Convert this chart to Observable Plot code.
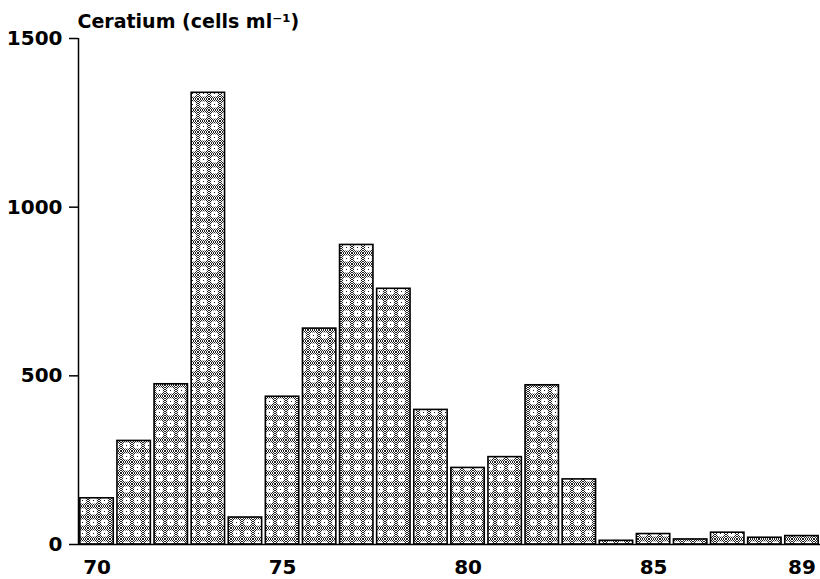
<!DOCTYPE html>
<html>
<head>
<meta charset="utf-8">
<script src="https://cdn.jsdelivr.net/npm/d3@7"></script>
<script src="https://cdn.jsdelivr.net/npm/@observablehq/plot@0.6"></script>
<style>
  html, body { margin: 0; padding: 0; background: #fff; }
  #chart svg { display: block; }
</style>
</head>
<body>
<div id="chart"></div>
<script>
const years = [1970,1971,1972,1973,1974,1975,1976,1977,1978,1979,1980,1981,1982,1983,1984,1985,1986,1987,1988,1989];
const cells = [137,307,475,1339,80,438,640,888,758,399,227,259,472,193,11,31,15,35,20,25];
const yTicks = [0,500,1000,1500];
const xTicks = [1970,1975,1980,1985,1989];
const title = "Ceratium (cells ml\u207B\u00B9)";

const data = years.map((year, i) => ({year, value: cells[i]}));
const half = 0.45;

const font = "'DejaVu Sans', sans-serif";

const plot = Plot.plot({
  width: 820,
  height: 579,
  marginLeft: 78,
  marginRight: 0,
  marginTop: 38,
  marginBottom: 35,
  style: {fontFamily: font, fontSize: "20px", fontWeight: "bold", color: "#000", background: "#fff"},
  x: {domain: [1969.5, 1989.5], axis: null, label: null},
  y: {domain: [0, 1500], axis: null, label: null},
  marks: [
    Plot.rectY(data, {
      x1: d => d.year - half,
      x2: d => d.year + half,
      y: "value",
      fill: "url(#ceratiumPattern)",
      stroke: "#000",
      strokeWidth: 1.6
    }),
    Plot.ruleY([0], {stroke: "#000", strokeWidth: 1.5}),
    Plot.ruleX([1969.5], {y1: 0, y2: 1500, stroke: "#000", strokeWidth: 1.5}),
    Plot.axisY({ticks: yTicks, tickSize: 9, tickPadding: 7, tickFormat: d => String(d), label: null, fontSize: 20, fontWeight: "bold", strokeWidth: 1.5}),
    Plot.axisX({ticks: xTicks, tickSize: 0, tickPadding: 15, tickFormat: d => String(d % 100), label: null, fontSize: 20, fontWeight: "bold"}),
    Plot.text([title], {frameAnchor: "top-left", textAnchor: "start", lineAnchor: "bottom", dy: -11, dx: -1, fontSize: 19, fontWeight: "bold"})
  ]
});

// pattern definition for bar fills
const svg = d3.select(plot);
const defs = svg.insert("defs", ":first-child");
const checker = defs.append("pattern")
  .attr("id", "halftone")
  .attr("patternUnits", "userSpaceOnUse")
  .attr("width", 2).attr("height", 2);
checker.append("rect").attr("width", 2).attr("height", 2).attr("fill", "#fff");
checker.append("rect").attr("x", 0).attr("y", 0).attr("width", 1).attr("height", 1).attr("fill", "#222");
checker.append("rect").attr("x", 1).attr("y", 1).attr("width", 1).attr("height", 1).attr("fill", "#222");

const pat = defs.append("pattern")
  .attr("id", "ceratiumPattern")
  .attr("patternUnits", "userSpaceOnUse")
  .attr("width", 11).attr("height", 11);
pat.append("rect").attr("width", 11).attr("height", 11).attr("fill", "url(#halftone)");
pat.append("ellipse").attr("cx", 5.5).attr("cy", 5.5).attr("rx", 3.5).attr("ry", 3.3).attr("fill", "#fff");
pat.append("rect").attr("x", 5).attr("y", 5).attr("width", 1).attr("height", 1).attr("fill", "#222");

document.getElementById("chart").appendChild(plot);
</script>
</body>
</html>
